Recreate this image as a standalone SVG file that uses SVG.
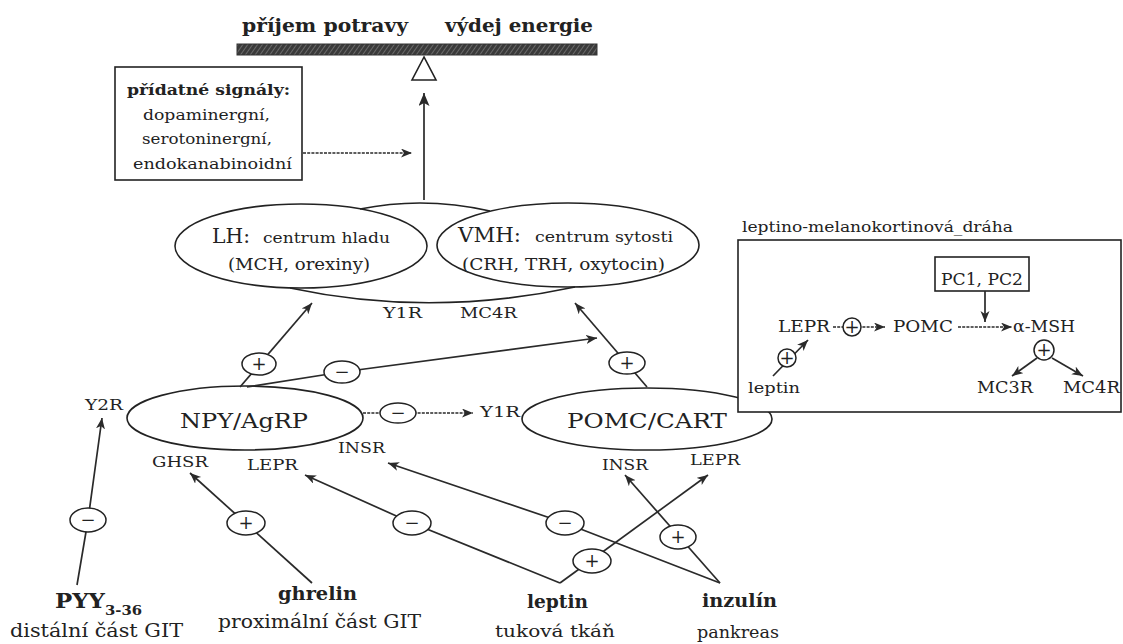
<svg xmlns="http://www.w3.org/2000/svg" width="1123" height="644" viewBox="0 0 1123 644">
<style>
text{font-family:"DejaVu Serif","Liberation Serif",serif;fill:#222}
.b{font-weight:bold}
.shape{fill:none;stroke:#222;stroke-width:1.6}
.wshape{fill:#fff;stroke:#222;stroke-width:1.6}
.ln{fill:none;stroke:#2a2a2a;stroke-width:1.7}
.ar{marker-end:url(#ah)}
.dash{stroke-dasharray:3 1.2}
.sign{fill:#fff;stroke:#222;stroke-width:1.5}
.st{font-size:18px;text-anchor:middle}
</style>
<defs>
<marker id="ah" markerUnits="userSpaceOnUse" markerWidth="12" markerHeight="10" refX="11" refY="4.5" orient="auto">
<path d="M0,0 L11,4.5 L0,9 L3,4.5 z" fill="#2a2a2a"/>
</marker>
<marker id="ahb" markerUnits="userSpaceOnUse" markerWidth="14" markerHeight="12" refX="13" refY="5.5" orient="auto">
<path d="M0,0 L13,5.5 L0,11 L3,5.5 z" fill="#2a2a2a"/>
</marker>
<pattern id="hatch" width="4" height="4" patternUnits="userSpaceOnUse" patternTransform="rotate(35)">
<rect width="4" height="4" fill="#3a3a3a"/>
<line x1="0" y1="0" x2="0" y2="4" stroke="#8a8a8a" stroke-width="1.2"/>
</pattern>
</defs>
<rect width="1123" height="644" fill="#fff"/>

<g id="balance">
<text x="242" y="32" class="b" font-size="18" textLength="166" lengthAdjust="spacingAndGlyphs">příjem potravy</text>
<text x="445" y="32" class="b" font-size="18" textLength="148" lengthAdjust="spacingAndGlyphs">výdej energie</text>
<rect x="237" y="44" width="360" height="11" fill="url(#hatch)" stroke="#333" stroke-width="1"/>
<polygon points="424,57 412,80 436,80" class="wshape"/>
</g>

<g id="additional-signals">
<rect x="115" y="67" width="187" height="113" class="wshape"/>
<text x="127" y="95" class="b" font-size="15" textLength="163" lengthAdjust="spacingAndGlyphs">přídatné signály:</text>
<text x="143" y="120" font-size="15" textLength="127" lengthAdjust="spacingAndGlyphs">dopaminergní,</text>
<text x="142" y="144" font-size="15" textLength="130" lengthAdjust="spacingAndGlyphs">serotoninergní,</text>
<text x="133" y="169" font-size="15" textLength="159" lengthAdjust="spacingAndGlyphs">endokanabinoidní</text>
</g>

<g id="hypothalamus">
<path d="M360,209 Q424,196 490,211" class="shape"/>
<path d="M290,288 Q430,318 575,287" class="shape"/>
<g id="LH">
<ellipse cx="301" cy="246" rx="126" ry="42" class="shape"/>
<text x="212" y="243" font-size="21" textLength="38" lengthAdjust="spacingAndGlyphs">LH:</text>
<text x="263" y="243" font-size="15" textLength="127" lengthAdjust="spacingAndGlyphs">centrum hladu</text>
<text x="228" y="270" font-size="16" textLength="142" lengthAdjust="spacingAndGlyphs">(MCH, orexiny)</text>
</g>
<g id="VMH">
<ellipse cx="568" cy="245" rx="131" ry="42" class="shape"/>
<text x="458" y="242" font-size="21" textLength="63" lengthAdjust="spacingAndGlyphs">VMH:</text>
<text x="535" y="242" font-size="15" textLength="138" lengthAdjust="spacingAndGlyphs">centrum sytosti</text>
<text x="462" y="270" font-size="16" textLength="203" lengthAdjust="spacingAndGlyphs">(CRH, TRH, oxytocin)</text>
</g>
<text x="383" y="318" font-size="15" textLength="39" lengthAdjust="spacingAndGlyphs">Y1R</text>
<text x="460" y="318" font-size="15" textLength="57" lengthAdjust="spacingAndGlyphs">MC4R</text>
</g>

<g id="NPY-AgRP">
<ellipse cx="245" cy="418" rx="118" ry="32" class="shape"/>
<text x="180" y="428" font-size="21" textLength="128" lengthAdjust="spacingAndGlyphs">NPY/AgRP</text>
<text x="85" y="410" font-size="15" textLength="38" lengthAdjust="spacingAndGlyphs">Y2R</text>
<text x="152" y="467" font-size="15" textLength="56" lengthAdjust="spacingAndGlyphs">GHSR</text>
<text x="247" y="470" font-size="15" textLength="51" lengthAdjust="spacingAndGlyphs">LEPR</text>
<text x="338" y="453" font-size="15" textLength="47" lengthAdjust="spacingAndGlyphs">INSR</text>
</g>

<g id="POMC-CART">
<ellipse cx="647" cy="419" rx="125" ry="31" class="shape"/>
<text x="567" y="428" font-size="21" textLength="160" lengthAdjust="spacingAndGlyphs">POMC/CART</text>
<text x="480" y="417" font-size="15" textLength="40" lengthAdjust="spacingAndGlyphs">Y1R</text>
<text x="602" y="470" font-size="15" textLength="46" lengthAdjust="spacingAndGlyphs">INSR</text>
<text x="690" y="465" font-size="15" textLength="50" lengthAdjust="spacingAndGlyphs">LEPR</text>
</g>

<g id="leptin-melanocortin-pathway">
<text x="742" y="232" font-size="14" textLength="271" lengthAdjust="spacingAndGlyphs">leptino-melanokortinová_dráha</text>
<rect x="738" y="240" width="383" height="172" class="wshape"/>
<g id="PC">
<rect x="935" y="257" width="94" height="34" class="wshape"/>
<text x="941" y="285" font-size="16" textLength="82" lengthAdjust="spacingAndGlyphs">PC1, PC2</text>
</g>
<text x="778" y="332" font-size="16" textLength="52" lengthAdjust="spacingAndGlyphs">LEPR</text>
<text x="893" y="332" font-size="16" textLength="60" lengthAdjust="spacingAndGlyphs">POMC</text>
<text x="1013" y="332" font-size="16" textLength="62" lengthAdjust="spacingAndGlyphs">α-MSH</text>
<text x="977" y="393" font-size="16" textLength="56" lengthAdjust="spacingAndGlyphs">MC3R</text>
<text x="1063" y="393" font-size="16" textLength="57" lengthAdjust="spacingAndGlyphs">MC4R</text>
<text x="748" y="393" font-size="15" textLength="52" lengthAdjust="spacingAndGlyphs">leptin</text>
</g>

<g id="PYY">
<text x="55" y="608" class="b" font-size="21" textLength="50" lengthAdjust="spacingAndGlyphs">PYY</text>
<text x="105" y="615" class="b" font-size="13" textLength="37" lengthAdjust="spacingAndGlyphs">3-36</text>
<text x="10" y="637" font-size="19" textLength="173" lengthAdjust="spacingAndGlyphs">distální část GIT</text>
</g>
<g id="ghrelin">
<text x="278" y="600" class="b" font-size="19" textLength="79" lengthAdjust="spacingAndGlyphs">ghrelin</text>
<text x="218" y="628" font-size="19" textLength="203" lengthAdjust="spacingAndGlyphs">proximální část GIT</text>
</g>
<g id="leptin">
<text x="527" y="608" class="b" font-size="19" textLength="61" lengthAdjust="spacingAndGlyphs">leptin</text>
<text x="495" y="637" font-size="17" textLength="120" lengthAdjust="spacingAndGlyphs">tuková tkáň</text>
</g>
<g id="inzulin">
<text x="702" y="607" class="b" font-size="19" textLength="75" lengthAdjust="spacingAndGlyphs">inzulín</text>
<text x="697" y="638" font-size="17" textLength="82" lengthAdjust="spacingAndGlyphs">pankreas</text>
</g>

<g id="connectors">
<line x1="303" y1="153" x2="412" y2="153" class="ln dash ar"/>
<line x1="424" y1="200" x2="424" y2="93" class="ln" stroke-width="3" marker-end="url(#ahb)"/>
<line x1="240" y1="387" x2="312" y2="303" class="ln ar"/>
<polyline points="247,387 342,372 597,338" class="ln ar"/>
<line x1="647" y1="387" x2="575" y2="303" class="ln ar"/>
<line x1="363" y1="413" x2="473" y2="413" class="ln dash ar"/>
<polyline points="77,585 88,520 102,418" class="ln ar"/>
<line x1="312" y1="583" x2="190" y2="473" class="ln ar"/>
<polyline points="560,583 412,523 305,475" class="ln ar"/>
<line x1="560" y1="583" x2="708" y2="475" class="ln ar"/>
<polyline points="720,583 565,523 388,463" class="ln ar"/>
<line x1="720" y1="583" x2="625" y2="475" class="ln ar"/>
<line x1="833" y1="327" x2="885" y2="327" class="ln dash ar"/>
<line x1="958" y1="327" x2="1012" y2="327" class="ln dash ar"/>
<line x1="985" y1="291" x2="985" y2="322" class="ln ar"/>
<line x1="1037" y1="358" x2="1012" y2="376" class="ln ar"/>
<line x1="1052" y1="358" x2="1083" y2="376" class="ln ar"/>
<line x1="773" y1="376" x2="808" y2="340" class="ln ar"/>

<g id="signs">
<ellipse cx="259" cy="364" rx="17" ry="11" class="sign"/><text x="259" y="370" class="st">+</text>
<ellipse cx="342" cy="372" rx="18" ry="11" class="sign"/><text x="342" y="378" class="st">−</text>
<ellipse cx="627" cy="363" rx="18" ry="11" class="sign"/><text x="627" y="369" class="st">+</text>
<ellipse cx="398" cy="413" rx="18" ry="10" class="sign"/><text x="398" y="419" class="st">−</text>
<ellipse cx="88" cy="520" rx="18" ry="12" class="sign"/><text x="88" y="526" class="st">−</text>
<ellipse cx="246" cy="523" rx="19" ry="12" class="sign"/><text x="246" y="529" class="st">+</text>
<ellipse cx="412" cy="523" rx="19" ry="12" class="sign"/><text x="412" y="529" class="st">−</text>
<ellipse cx="565" cy="523" rx="19" ry="12" class="sign"/><text x="565" y="529" class="st">−</text>
<ellipse cx="592" cy="561" rx="19" ry="12" class="sign"/><text x="592" y="567" class="st">+</text>
<ellipse cx="678" cy="537" rx="18" ry="12" class="sign"/><text x="678" y="543" class="st">+</text>
<circle cx="852" cy="327" r="9" class="sign"/><text x="852" y="333" class="st" font-size="16">+</text>
<circle cx="1044" cy="350" r="10" class="sign"/><text x="1044" y="356" class="st" font-size="16">+</text>
<circle cx="787" cy="358" r="9" class="sign"/><text x="787" y="364" class="st" font-size="16">+</text>
</g>
</g>
</svg>
